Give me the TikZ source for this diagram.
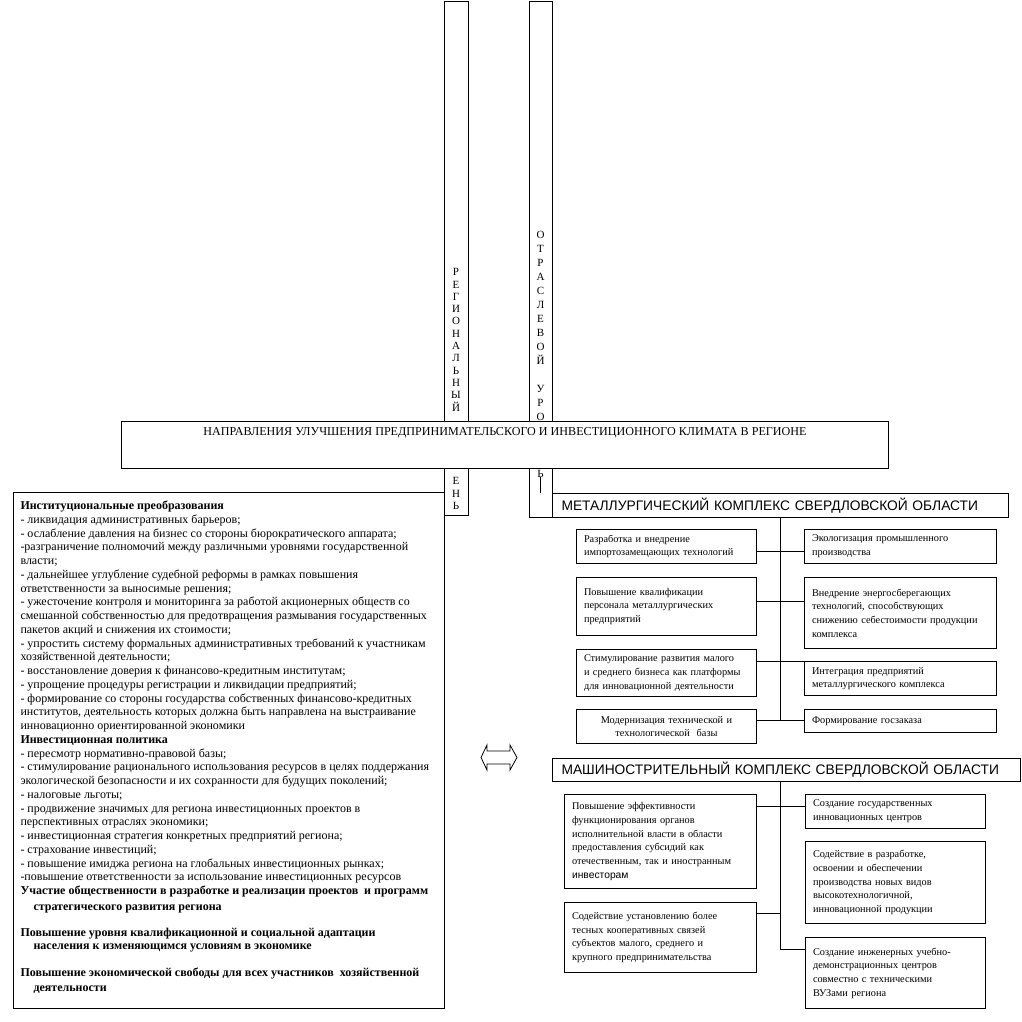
\documentclass[tikz,border=0pt]{standalone}
\usepackage{fontspec}
\setmainfont{Liberation Serif}
\newfontfamily\hdrfont{Liberation Sans}
\usetikzlibrary{positioning}

\tikzset{every picture/.style={line width=1pt}}
\tikzset{
  plainbox/.style={draw, anchor=north west, inner sep=0pt},
  itembox/.style={draw, anchor=north west, align=left, inner xsep=7.5pt, inner ysep=0pt,
    font=\fontsize{10.3}{13.7}\selectfont},
  hdrbox/.style={draw, anchor=north west, align=left, inner xsep=9pt, inner ysep=0pt,
    font=\hdrfont\fontsize{13.8}{15}\selectfont},
  bartxt/.style={anchor=north, align=center, inner sep=0pt, font=\fontsize{11}{12.3}\selectfont},
  link/.style={draw, line width=0.9pt}
}

\begin{document}
\begin{tikzpicture}[x=1pt, y=-1pt]
        \useasboundingbox (0,0) rectangle (1021,1022);
        % vertical bars
        \node[plainbox, minimum width=24pt, minimum height=514pt] (regbar) at (444,1) {};
        \node[plainbox, minimum width=23pt, minimum height=516pt] (otrbar) at (529,1) {};
        \node[bartxt] (regtxt) at (456,268)
            {Р\\Е\\Г\\И\\О\\Н\\А\\Л\\Ь\\Н\\Ы\\Й};
        \node[bartxt] (regtxtb) at (456,477)
            {Е\\Н\\Ь};
        \node[bartxt, font=\fontsize{11}{14}\selectfont] (otrtxt) at (540.5,231)
            {О\\Т\\Р\\А\\С\\Л\\Е\\В\\О\\Й\\[14pt]У\\Р\\О};
        \node[bartxt] (otrtxtb) at (540.5,470) {Ь};
        \draw (540,477) -- (540,493);
        % title
        \node[plainbox, fill=white, minimum width=767pt, minimum height=47pt] (title) at (121,421) {};
        \node[font=\fontsize{12.1}{14}\selectfont, inner sep=0pt] (titletxt) at ([yshift=-12pt]title.north)
            {НАПРАВЛЕНИЯ УЛУЧШЕНИЯ ПРЕДПРИНИМАТЕЛЬСКОГО И ИНВЕСТИЦИОННОГО КЛИМАТА В РЕГИОНЕ};
        % left column
        \node[plainbox, minimum width=431pt, minimum height=516pt] (leftbox) at (13,492) {};
        \node[anchor=north west, align=left, inner sep=0pt, font=\fontsize{12}{13.75}\selectfont] (lefttxt)
            at ([xshift=7pt, yshift=-8.5pt]leftbox.north west) {%
            \textbf{Институциональные преобразования}\\
            - ликвидация административных барьеров;\\
            - ослабление давления на бизнес со стороны бюрократического аппарата;\\
            -разграничение полномочий между различными уровнями государственной\\
            власти;\\
            - дальнейшее углубление судебной реформы в рамках повышения\\
            ответственности за выносимые решения;\\
            - ужесточение контроля и мониторинга за работой акционерных обществ со\\
            смешанной собственностью для предотвращения размывания государственных\\
            пакетов акций и снижения их стоимости;\\
            - упростить систему формальных административных требований к участникам\\
            хозяйственной деятельности;\\
            - восстановление доверия к финансово-кредитным институтам;\\
            - упрощение процедуры регистрации и ликвидации предприятий;\\
            - формирование со стороны государства собственных финансово-кредитных\\
            институтов, деятельность которых должна быть направлена на выстраивание\\
            инновационно ориентированной экономики\\
            \textbf{Инвестиционная политика}\\
            - пересмотр нормативно-правовой базы;\\
            - стимулирование рационального использования ресурсов в целях поддержания\\
            экологической безопасности и их сохранности для будущих поколений;\\
            - налоговые льготы;\\
            - продвижение значимых для региона инвестиционных проектов в\\
            перспективных отраслях экономики;\\
            - инвестиционная стратегия конкретных предприятий региона;\\
            - страхование инвестиций;\\
            - повышение имиджа региона на глобальных инвестиционных рынках;\\
            -повышение ответственности за использование инвестиционных ресурсов\\
            \textbf{Участие общественности в разработке и реализации проектов\ \ и программ}\\[2pt]
            \hspace*{13pt}\textbf{стратегического развития региона}\\[12pt]
            \textbf{Повышение уровня квалификационной и социальной адаптации}\\
            \hspace*{13pt}\textbf{населения к изменяющимся условиям в экономике}\\[13pt]
            \textbf{Повышение экономической свободы для всех участников\ \ хозяйственной}\\[1pt]
            \hspace*{13pt}\textbf{деятельности}};
        % double arrow
        \draw[line width=0.8pt] (481,757.5) -- (487,745) -- (487,751) -- (510,751) -- (510,745)
            -- (517,757.5) -- (510,770) -- (510,764) -- (487,764) -- (487,770) -- cycle;
        % metallurgy
        \node[hdrbox, text width=438pt, minimum height=24pt] (metall) at (552,493)
            {МЕТАЛЛУРГИЧЕСКИЙ КОМПЛЕКС СВЕРДЛОВСКОЙ ОБЛАСТИ};
        \node[itembox, text width=165pt, minimum height=34pt] (l1) at (576,529)
            {Разработка и внедрение\\импортозамещающих технологий};
        \node[itembox, text width=177pt, minimum height=34pt] (r1) at (804,529)
            {Экологизация промышленного\\производства};
        \node[itembox, text width=165pt, minimum height=58pt] (l2) at (576,577)
            {Повышение квалификации\\персонала металлургических\\предприятий};
        \node[itembox, text width=177pt, minimum height=71pt] (r2) at (804,577)
            {Внедрение энергосберегающих\\технологий, способствующих\\снижению себестоимости продукции\\комплекса};
        \node[itembox, text width=165pt, minimum height=47pt] (l3) at (576,649)
            {Стимулирование развития малого\\и среднего бизнеса как платформы\\для инновационной деятельности};
        \node[itembox, text width=177pt, minimum height=34pt] (r3) at (804,661)
            {Интеграция предприятий\\металлургического комплекса};
        \node[itembox, align=center, text width=165pt, minimum height=34pt] (l4) at (576,709)
            {Модернизация технической и\\технологической\ \ базы};
        \node[itembox, text width=177pt, minimum height=23pt] (r4) at (804,709)
            {Формирование госзаказа};
        \coordinate (mj1) at (780,551);
        \coordinate (mj2) at (780,601);
        \coordinate (mj3) at (780,661);
        \coordinate (mj4) at (780,720);
        \draw[link] (metall.south -| mj1) -- (mj4);
        \draw[link] (l1.east |- mj1) -- (r1.west |- mj1);
        \draw[link] (l2.east |- mj2) -- (r2.west |- mj2);
        \draw[link] (l3.east |- mj3) -- (r3.north west);
        \draw[link] (l4.east |- mj4) -- (r4.west |- mj4);
        % machine building
        \node[hdrbox, text width=450pt, minimum height=23pt] (mash) at (552,758)
            {МАШИНОСТРИТЕЛЬНЫЙ КОМПЛЕКС СВЕРДЛОВСКОЙ ОБЛАСТИ};
        \node[itembox, text width=177pt, minimum height=94pt] (ml1) at (564,794)
            {Повышение эффективности\\функционирования органов\\исполнительной власти в области\\предоставления субсидий как\\отечественным, так и иностранным\\{\hdrfont инвесторам}};
        \node[itembox, text width=165pt, minimum height=34pt] (mr1) at (805,794)
            {Создание государственных\\инновационных центров};
        \node[itembox, text width=165pt, minimum height=82pt] (mr2) at (805,841)
            {Содействие в разработке,\\освоении и обеспечении\\производства новых видов\\высокотехнологичной,\\инновационной продукции};
        \node[itembox, text width=177pt, minimum height=70pt] (ml2) at (564,902)
            {Содействие установлению более\\тесных кооперативных связей\\субъектов малого, среднего и\\крупного предпринимательства};
        \node[itembox, text width=165pt, minimum height=71pt] (mr3) at (805,937)
            {Создание инженерных учебно-\\демонстрационных центров\\совместно с техническими\\ВУЗами региона};
        \coordinate (sj1) at (780,806);
        \coordinate (sj2) at (780,913);
        \coordinate (sj3) at (780,949);
        \draw[link] (mash.south -| sj1) -- (sj3) -- (mr3.west |- sj3);
        \draw[link] (ml1.east |- sj1) -- (mr1.west |- sj1);
        \draw[link] (ml2.east |- sj2) -- (sj2);
\end{tikzpicture}
\end{document}
